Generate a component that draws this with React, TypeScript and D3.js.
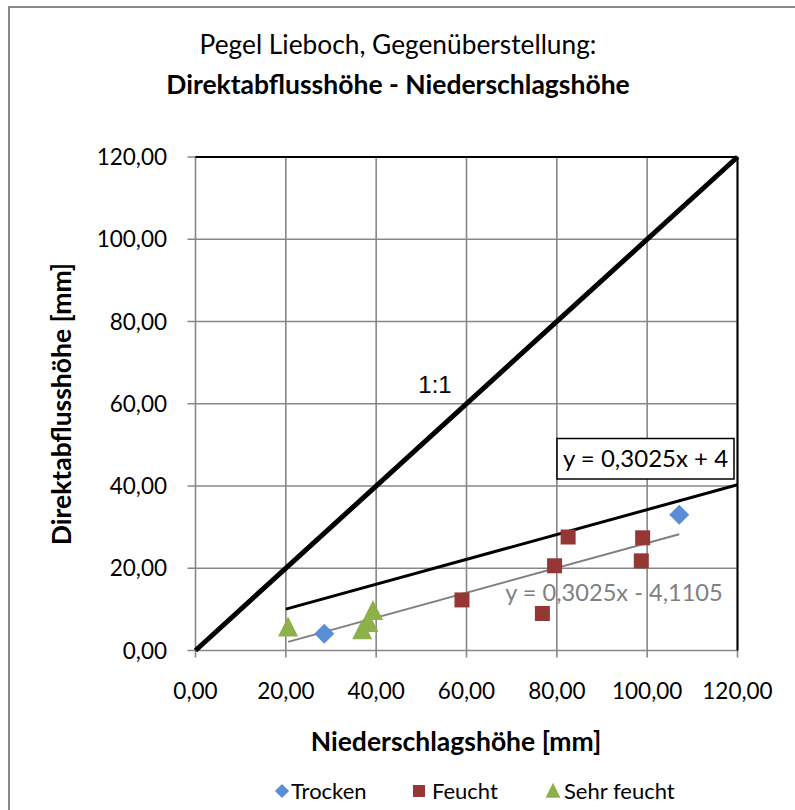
import React from "react";
import * as d3 from "d3";

const xTicks = [0, 20, 40, 60, 80, 100, 120];
const yTicks = [0, 20, 40, 60, 80, 100, 120];

const trockenX = [28.5, 107.1];
const trockenY = [4.1, 33.0];
const feuchtX = [59.0, 76.8, 79.5, 82.5, 98.7, 99.0];
const feuchtY = [12.3, 9.0, 20.6, 27.6, 21.8, 27.4];
const sehrX = [20.5, 36.9, 38.3, 39.3];
const sehrY = [5.6, 4.9, 6.7, 9.6];

const slope = 0.3025;
const interceptFit = -4.1105;
const interceptShift = 4;
const oneToOne = [0, 120];
const shiftRange = [20, 120];

const title1 = "Pegel Lieboch, Gegenüberstellung:";
const title2 = "Direktabflusshöhe - Niederschlagshöhe";
const xTitle = "Niederschlagshöhe [mm]";
const yTitle = "Direktabflusshöhe [mm]";
const legendNames = ["Trocken", "Feucht", "Sehr feucht"];
const colors = ["#5A8ED4", "#953735", "#8DB14A"];

const FONT = "Lato, 'Open Sans', sans-serif";

export default function App() {
  const x = d3.scaleLinear().domain([0, 120]).range([195.5, 737.5]);
  const y = d3.scaleLinear().domain([0, 120]).range([650.5, 157]);
  const fmt = (v: number) => d3.format(".2f")(v).replace(".", ",");

  const allX = [...trockenX, ...feuchtX, ...sehrX];
  const xmin = d3.min(allX)!;
  const xmax = d3.max(allX)!;
  const line = d3.line<[number, number]>().x(d => x(d[0])).y(d => y(d[1]));

  const diamond = d3.symbol().type(d3.symbolSquare).size(200)()!;
  const square = d3.symbol().type(d3.symbolSquare).size(225)()!;
  const triangle = (cx: number, cy: number, s: number) =>
    `M${cx},${cy - s * 0.55}L${cx + s / 2},${cy + s * 0.45}L${cx - s / 2},${cy + s * 0.45}Z`;

  return (
    <svg width={795} height={810} style={{ position: "absolute", left: 0, top: 0, background: "#fff" }}
      fontFamily={FONT}>
      <rect x={0} y={0} width={795} height={810} fill="#fff" />
      <rect x={9} y={7} width={800} height={820} fill="none" stroke="#888" strokeWidth={2} />

      <text x={398} y={54} textAnchor="middle" fontSize={26.3} fill="#000">{title1}</text>
      <text x={398} y={94} textAnchor="middle" fontSize={26.5} fontWeight="bold" fill="#000">{title2}</text>

      {/* gridlines */}
      {yTicks.map(t => (
        <line key={"gy" + t} x1={x(0) - 8} x2={x(120)} y1={y(t)} y2={y(t)} stroke="#878787" strokeWidth={1.6} />
      ))}
      {xTicks.map(t => (
        <line key={"gx" + t} x1={x(t)} x2={x(t)} y1={y(120)} y2={y(0) + 7} stroke="#878787" strokeWidth={1.6} />
      ))}
      {/* top and right border */}
      <line x1={x(0)} x2={x(120)} y1={y(120)} y2={y(120)} stroke="#000" strokeWidth={2} />
      <line x1={x(120)} x2={x(120)} y1={y(120)} y2={y(0)} stroke="#000" strokeWidth={2} />

      {/* tick labels */}
      {yTicks.map(t => (
        <text key={"ly" + t} x={167} y={y(t) + 8} textAnchor="end" fontSize={22.5} fill="#000">{fmt(t)}</text>
      ))}
      {xTicks.map(t => (
        <text key={"lx" + t} x={x(t)} y={699} textAnchor="middle" fontSize={22.5} fill="#000">{fmt(t)}</text>
      ))}

      <text x={456} y={751} textAnchor="middle" fontSize={26.5} fontWeight="bold">{xTitle}</text>
      <text transform={`translate(71,404) rotate(-90)`} textAnchor="middle" fontSize={26.5} fontWeight="bold">{yTitle}</text>

      {/* 1:1 line */}
      <path d={line(oneToOne.map(v => [v, v] as [number, number]))!} stroke="#000" strokeWidth={5} fill="none" />
      <text x={435} y={393} textAnchor="middle" fontSize={24} fontFamily="'Liberation Sans', Arial, sans-serif">1:1</text>

      {/* shifted line */}
      <path d={line(shiftRange.map(v => [v, slope * v + interceptShift] as [number, number]))!} stroke="#000" strokeWidth={3} fill="none" />
      {/* fit trendline */}
      <path d={line([xmin, xmax].map(v => [v, slope * v + interceptFit] as [number, number]))!} stroke="#808080" strokeWidth={2} fill="none" />

      {/* markers */}
      {trockenX.map((v, i) => (
        <path key={"t" + i} d={diamond} transform={`translate(${x(v)},${y(trockenY[i])}) rotate(45)`} fill={colors[0]} />
      ))}
      {feuchtX.map((v, i) => (
        <path key={"f" + i} d={square} transform={`translate(${x(v)},${y(feuchtY[i])})`} fill={colors[1]} />
      ))}
      {sehrX.map((v, i) => (
        <path key={"s" + i} d={triangle(x(v), y(sehrY[i]), 20)} fill={colors[2]} />
      ))}

      {/* labels */}
      <text x={614} y={601} textAnchor="middle" fontSize={23.6} fill="#808080">{`y = 0,3025x - 4,1105`}</text>
      <rect x={557} y={438.5} width={177} height={40.5} fill="#fff" stroke="#000" strokeWidth={1.5} />
      <text x={645.5} y={467} textAnchor="middle" fontSize={24} fill="#000">{`y = 0,3025x + 4`}</text>

      {/* legend */}
      <path d={d3.symbol().type(d3.symbolSquare).size(100)()!} transform="translate(282,791) rotate(45)" fill={colors[0]} />
      <text x={291} y={799} fontSize={22} fill="#000">{legendNames[0]}</text>
      <rect x={413} y={785} width={12} height={12} fill={colors[1]} />
      <text x={432} y={799} fontSize={22} fill="#000">{legendNames[1]}</text>
      <path d={triangle(553, 791, 15)} fill={colors[2]} />
      <text x={564} y={799} fontSize={22} fill="#000">{legendNames[2]}</text>
    </svg>
  );
}
